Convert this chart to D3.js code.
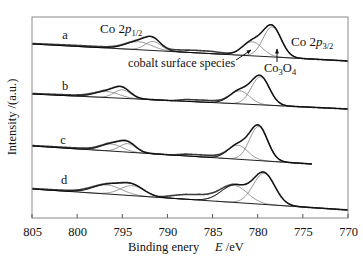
<!DOCTYPE html>
<html><head><meta charset="utf-8">
<script src="https://cdn.jsdelivr.net/npm/d3@7"></script>
<style>
html,body{margin:0;padding:0;background:#fff;}
text{font-family:"Liberation Serif","Times New Roman",serif;fill:#111;}
</style></head>
<body><svg id="c" width="363" height="259"></svg>
<script>
// ---- data (intensity in arbitrary units) ----
const xTicks = [805, 800, 795, 790, 785, 780, 775, 770];
const spectraNames = ["a", "b", "c", "d"];
// linear background: [startEnergy, startIntensity, endEnergy, endIntensity]
const backgroundA = [805, 174, 770, 157];
const backgroundB = [805, 124, 770, 109];
const backgroundC = [805, 72, 774, 54];
const backgroundD = [805, 29, 770, 8];
// fitted components: centre (eV), height, sigma (eV)
const peaksA = [[793.2, 8, 1.45], [791.6, 9, 0.9], [780.6, 14, 1.1], [778.4, 30, 1.0]];
const peaksB = [[796.7, 6, 1.35], [795.0, 8.5, 0.9], [782.0, 13, 1.1], [779.7, 28, 1.0]];
const peaksC = [[796.2, 7, 1.2], [794.4, 8.5, 0.9], [782.2, 14, 1.1], [779.9, 34, 1.0]];
const peaksD = [[796.7, 9, 1.6], [793.9, 10, 1.3], [782.6, 17, 1.45], [779.3, 31, 1.2]];
// measured signal above the fit envelope: [energy, excess]
const excessA = [[805, 0.5], [800, 1], [797.5, 1], [790.5, 0], [789, 1.8], [787, 2.5], [785, 2.3], [783.5, 1], [782.5, 0]];
const excessB = [[805, 0.5], [799, 1], [797.5, 0.5], [789.5, 0], [788, 1.8], [786, 2], [784.5, 1.5], [783, 0]];
const excessC = [[805, 0.5], [799, 1], [797, 0.5], [789.5, 0], [788, 1.8], [786, 2], [784.5, 1.5], [783, 0]];
const excessD = [[805, 0.5], [799, 1], [797.5, 0.5], [791, 0], [789, 3.5], [788, 4.8], [786.5, 5.3], [785.2, 4.2], [784, 2.3], [783, 0.8], [782, 0]];

const spectra = [
  {name: "a", bg: backgroundA, peaks: peaksA, excess: excessA},
  {name: "b", bg: backgroundB, peaks: peaksB, excess: excessB},
  {name: "c", bg: backgroundC, peaks: peaksC, excess: excessC},
  {name: "d", bg: backgroundD, peaks: peaksD, excess: excessD}
];

// ---- layout ----
const svg = d3.select("#c");
const L = 32, R = 348, T = 17, B = 218;
const x = d3.scaleLinear().domain([805, 770]).range([L, R]);
const y = d3.scaleLinear().domain([0, 201]).range([B, T]);

const gauss = (e, p) => p[1] * Math.exp(-0.5 * Math.pow((e - p[0]) / p[2], 2));

spectra.forEach(s => {
  const [e0, i0, e1, i1] = s.bg;
  const bgS = d3.scaleLinear().domain([e0, e1]).range([i0, i1]);
  const exS = d3.scaleLinear().domain(s.excess.map(d => d[0])).range(s.excess.map(d => d[1])).clamp(true);
  const grid = d3.range(e0, e1 - 0.001, -0.1).concat([e1]);
  const line = d3.line().x(d => x(d[0])).y(d => y(d[1]));
  const smooth = d3.line().x(d => x(d[0])).y(d => y(d[1])).curve(d3.curveBasis);
  // components
  s.peaks.forEach(p => {
    const pts = grid.filter(e => Math.abs(e - p[0]) < 4.5 * p[2]).map(e => [e, bgS(e) + gauss(e, p)]);
    svg.append("path").attr("d", line(pts)).attr("fill", "none")
      .attr("stroke", "#7a7a7a").attr("stroke-width", 0.8);
  });
  // background
  svg.append("path").attr("d", line([[e0, i0], [e1, i1]])).attr("fill", "none")
    .attr("stroke", "#222").attr("stroke-width", 1.1);
  // measured data
  const env = grid.map(e => [e, bgS(e) + d3.sum(s.peaks, p => gauss(e, p))]);
  const raw = env.map(d => [d[0], d[1] + exS(d[0])]);
  svg.append("path").attr("d", smooth(raw)).attr("fill", "none")
    .attr("stroke", "#3a3a3a").attr("stroke-width", 1.6);
  svg.append("path").attr("d", line(env)).attr("fill", "none")
    .attr("stroke", "#000").attr("stroke-width", 0.9);
});

// frame
svg.append("rect").attr("x", L).attr("y", T).attr("width", R - L).attr("height", B - T)
  .attr("fill", "none").attr("stroke", "#8a8a8a").attr("stroke-width", 1);

// x axis (ticks inside)
const xAxis = d3.axisBottom(x).tickValues(xTicks).tickSize(0).tickPadding(9).tickFormat(d3.format("d"));
const gx = svg.append("g").attr("transform", `translate(0,${B})`).call(xAxis);
gx.attr("font-family", null).attr("font-size", null);
gx.select(".domain").remove();
gx.selectAll("text").attr("font-size", 12.5).style("font-family", '"Liberation Serif",serif').attr("fill", "#111");
xTicks.forEach(t => {
  svg.append("line").attr("x1", x(t)).attr("x2", x(t)).attr("y1", B).attr("y2", B - 4)
    .attr("stroke", "#555").attr("stroke-width", 1);
});

// axis titles
const xt = svg.append("text").attr("y", 251).attr("font-size", 12.5);
xt.append("tspan").attr("x", 128).text("Binding enery");
xt.append("tspan").attr("x", 215).attr("font-style", "italic").text("E");
xt.append("tspan").text(" /eV");
svg.append("text").attr("transform", "translate(16,117) rotate(-90)").attr("text-anchor", "middle")
  .attr("font-size", 12.5).text("Intensity /(a.u.)");

// curve labels
const labPos = {a: [65, 39], b: [65, 90], c: [63, 144], d: [64, 184]};
spectraNames.forEach(n => {
  svg.append("text").attr("x", labPos[n][0]).attr("y", labPos[n][1]).attr("text-anchor", "middle")
    .attr("font-size", 12.5).text(n);
});

// annotations
function coLabel(x0, y0, sub) {
  const t = svg.append("text").attr("x", x0).attr("y", y0).attr("font-size", 13);
  t.append("tspan").text("Co 2");
  t.append("tspan").attr("font-style", "italic").text("p");
  t.append("tspan").attr("font-size", 8.5).attr("dy", 3).text(sub);
}
coLabel(100, 33, "1/2");
coLabel(291, 46, "3/2");
svg.append("text").attr("x", 128).attr("y", 67).attr("font-size", 12.3).text("cobalt surface species");
const co = svg.append("text").attr("x", 264).attr("y", 72).attr("font-size", 12.5);
co.append("tspan").text("Co");
co.append("tspan").attr("font-size", 8.5).attr("dy", 3).text("3");
co.append("tspan").attr("dy", -3).text("O");
co.append("tspan").attr("font-size", 8.5).attr("dy", 3).text("4");

const defs = svg.append("defs");
defs.append("marker").attr("id", "ah").attr("viewBox", "0 0 10 10").attr("refX", 9).attr("refY", 5)
  .attr("markerWidth", 5).attr("markerHeight", 5).attr("orient", "auto")
  .append("path").attr("d", "M0,1 L10,5 L0,9 Z").attr("fill", "#111");
svg.append("line").attr("x1", 236).attr("y1", 60).attr("x2", 251).attr("y2", 50)
  .attr("stroke", "#111").attr("stroke-width", 1).attr("marker-end", "url(#ah)");
svg.append("line").attr("x1", 277).attr("y1", 62).attr("x2", 277).attr("y2", 49)
  .attr("stroke", "#111").attr("stroke-width", 1).attr("marker-end", "url(#ah)");
</script></body></html>
